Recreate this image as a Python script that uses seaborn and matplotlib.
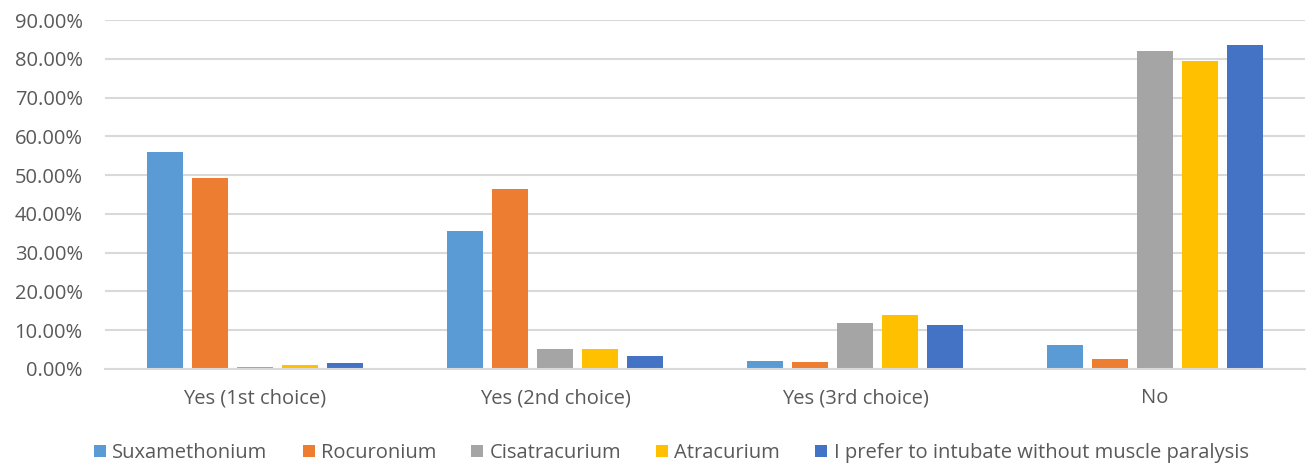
import numpy as np
import pandas as pd
import matplotlib
matplotlib.use("Agg")
import matplotlib.pyplot as plt
import seaborn as sns
from matplotlib.ticker import PercentFormatter
from matplotlib.patches import Patch

# data (percent)
choices = ["Yes (1st choice)", "Yes (2nd choice)", "Yes (3rd choice)", "No"]
drugs = ["Suxamethonium", "Rocuronium", "Cisatracurium", "Atracurium",
         "I prefer to intubate without muscle paralysis"]
suxamethonium = [55.9, 35.6, 2.1, 6.1]
rocuronium = [49.2, 46.3, 1.7, 2.5]
cisatracurium = [0.6, 5.1, 11.9, 81.9]
atracurium = [1.0, 5.1, 13.9, 79.5]
no_paralysis = [1.5, 3.4, 11.3, 83.5]
colors = ["#5b9bd5", "#ed7d31", "#a5a5a5", "#ffc000", "#4472c4"]

series = [suxamethonium, rocuronium, cisatracurium, atracurium, no_paralysis]
rows = []
for d, vals in zip(drugs, series):
    for c, v in zip(choices, vals):
        rows.append({"choice": c, "drug": d, "value": v})
df = pd.DataFrame(rows)

sns.set_style("white")
plt.rcParams["font.family"] = ["Open Sans", "DejaVu Sans"]

fig = plt.figure(figsize=(13.11, 4.66), dpi=100)
ax = fig.add_axes([105 / 1311, 1 - 369 / 466, 1200 / 1311, 349 / 466])

sns.barplot(data=df, x="choice", y="value", hue="drug", hue_order=drugs,
            order=choices, palette=colors, saturation=1, width=0.75, gap=0.2,
            edgecolor="none", linewidth=0, ax=ax, legend=False)

ax.set_ylim(0, 90)
ax.set_xlim(-0.5, 3.5)
ax.set_yticks(np.arange(0, 91, 10))
ax.yaxis.set_major_formatter(PercentFormatter(decimals=2))
ax.grid(axis="y", color="#d9d9d9", linewidth=1.5)
ax.set_axisbelow(True)
for s in ["top", "right", "left"]:
    ax.spines[s].set_visible(False)
ax.spines["bottom"].set_color("#d9d9d9")
ax.spines["bottom"].set_linewidth(1.5)
ax.tick_params(axis="both", length=0, labelsize=14.5, colors="#595959")
ax.tick_params(axis="y", pad=16)
ax.tick_params(axis="x", pad=14)
ax.set_xlabel("")
ax.set_ylabel("")

handles = [Patch(facecolor=c, edgecolor="none") for c in colors]
fig.legend(handles, drugs, loc="center", bbox_to_anchor=(0.512, 1 - 453 / 466),
           ncol=5, frameon=False, fontsize=14.5, labelcolor="#595959",
           handlelength=0.6, handleheight=0.6, handletextpad=0.3,
           columnspacing=1.75)

fig.savefig("out.png", dpi=100)
